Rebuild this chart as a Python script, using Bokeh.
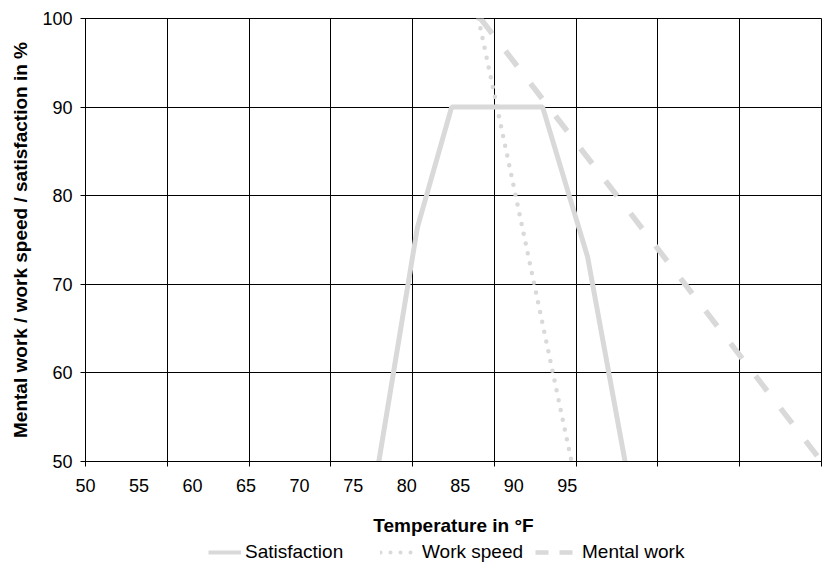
from bokeh.plotting import figure
from bokeh.layouts import column
from bokeh.models import Range1d, LinearAxis, FixedTicker, Grid, Legend, LegendItem
from bokeh.embed import file_html
from bokeh.resources import INLINE

# ---- data ----
x_tick_labels = [50, 55, 60, 65, 70, 75, 80, 85, 90, 95]
y_ticks = [50, 60, 70, 80, 90, 100]

sat_temp = [77.4, 81.0, 84.2, 92.7, 96.9, 100.4]
sat_val = [50, 76.4, 90, 90, 73.1, 50]

speed_temp = [86.7, 95.4]
speed_val = [100, 50]

mental_temp = [86.9, 118.75]
mental_val = [100, 50]

series_names = ["Satisfaction", "Work speed", "Mental work"]

x_min, x_max = 50, 118.75
n_grid = 9
grid_ticks = [x_min + k * (x_max - x_min) / n_grid for k in range(n_grid + 1)]

FONT = "Liberation Sans"
LINE_COL = "#d9d9d9"

p = figure(width=825, height=541, output_backend="svg", toolbar_location=None,
           x_range=Range1d(x_min, x_max), y_range=Range1d(50, 100),
           x_axis_type=None,
           min_border_left=85, min_border_top=18, min_border_right=4,
           min_border_bottom=80)
p.outline_line_color = "black"
p.outline_line_alpha = 1

# y axis
p.yaxis.ticker = FixedTicker(ticks=y_ticks)
p.yaxis.major_label_text_font = FONT
p.yaxis.major_label_text_font_size = "18px"
p.yaxis.major_label_text_color = "black"
p.yaxis.major_tick_out = 5
p.yaxis.major_tick_in = 3
p.yaxis.minor_tick_line_color = None
p.yaxis.axis_line_color = "black"
p.yaxis.major_tick_line_color = "black"
p.yaxis.major_label_standoff = 8
p.yaxis.axis_label = "Mental work / work speed / satisfaction in %"
p.yaxis.axis_label_text_font = FONT
p.yaxis.axis_label_text_font_style = "bold"
p.yaxis.axis_label_text_font_size = "19px"
p.yaxis.axis_label_text_color = "black"
p.yaxis.axis_label_standoff = 8
p.ygrid.grid_line_color = "black"
p.ygrid.grid_line_alpha = 1

# x axis: tick marks at gridlines
ax1 = LinearAxis(ticker=FixedTicker(ticks=grid_ticks), major_tick_out=5, major_tick_in=0,
                 major_label_text_font_size="0px", major_label_text_alpha=0,
                 major_label_standoff=0, minor_tick_line_color=None,
                 axis_line_color="black", major_tick_line_color="black")
# x axis: labels
ax2 = LinearAxis(ticker=FixedTicker(ticks=x_tick_labels), axis_line_color=None,
                 major_tick_line_color=None, major_tick_out=0, major_tick_in=0,
                 minor_tick_line_color=None, major_label_standoff=12,
                 major_label_text_font=FONT, major_label_text_font_size="18px",
                 major_label_text_color="black",
                 axis_label="Temperature in °F", axis_label_text_font=FONT,
                 axis_label_text_font_style="bold", axis_label_text_font_size="19px",
                 axis_label_text_color="black", axis_label_standoff=20)
p.add_layout(ax1, "below")
p.add_layout(ax2, "below")

xgrid = Grid(dimension=0, ticker=FixedTicker(ticks=grid_ticks), grid_line_color="black")
p.add_layout(xgrid)

p.line(sat_temp, sat_val, line_color=LINE_COL, line_width=5)
p.line(speed_temp, speed_val, line_color=LINE_COL, line_width=4.5,
       line_dash="0 10", line_cap="round")
p.line(mental_temp, mental_val, line_color=LINE_COL, line_width=5.5,
       line_dash="19 22")

# ---- legend strip below the chart (its frame is aligned with the chart's) ----
lf = figure(width=825, height=22, output_backend="svg", toolbar_location=None,
            x_range=Range1d(0, 1), y_range=Range1d(0, 1),
            x_axis_type=None, y_axis_type=None,
            min_border_left=85, min_border_right=4, min_border_top=0, min_border_bottom=0)
lf.outline_line_color = None
lf.xgrid.visible = False
lf.ygrid.visible = False

# key proxies: same series, outside this strip's ranges, so only the legend keys show
k1 = lf.line(sat_temp, sat_val, line_color=LINE_COL, line_width=4)
k2 = lf.line(speed_temp, speed_val, line_color=LINE_COL, line_width=4,
             line_dash="0 10", line_cap="round")
k3 = lf.line(mental_temp, mental_val, line_color=LINE_COL, line_width=4.5,
             line_dash="13 11")

legend_x = [123, 295, 450]
for name, rend, lx, std, gw in zip(series_names, [k1, k2, k3], legend_x,
                                   [4, 8, 9], [33, 34, 38]):
    lg = Legend(items=[LegendItem(label=name, renderers=[rend])],
                location=(lx, 0), orientation="horizontal",
                label_text_font=FONT, label_text_font_size="19px",
                label_text_color="black", label_height=22,
                glyph_width=gw, glyph_height=22, label_standoff=std,
                margin=0, padding=0, border_line_color=None,
                background_fill_alpha=0)
    lf.add_layout(lg)

layout = column(p, lf, spacing=0)
open("out.html", "w").write(file_html(layout, INLINE))
